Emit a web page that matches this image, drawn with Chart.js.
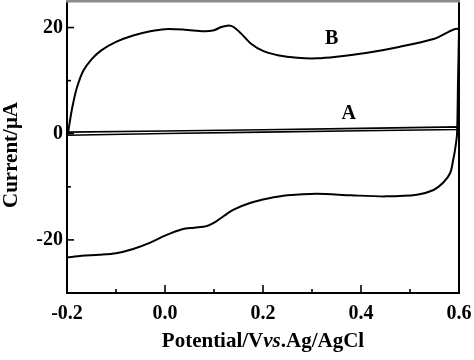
<!DOCTYPE html>
<html>
<head>
<meta charset="utf-8">
<script src="https://cdn.jsdelivr.net/npm/chart.js@4/dist/chart.umd.min.js"></script>
<style>
  html, body { margin: 0; padding: 0; background: #fff; }
  #wrap { width: 474px; height: 360px; }
</style>
</head>
<body>
<div id="wrap"><canvas id="cvChart" width="474" height="360"></canvas></div>
<script>
// curve B: forward scan then reverse scan (V, µA)
const potentialB = [
  -0.198, -0.193, -0.188, -0.18, -0.167, -0.15, -0.13, -0.1, -0.065, -0.03,
  0.0, 0.04, 0.08, 0.1, 0.115, 0.13, 0.14, 0.155, 0.175, 0.2,
  0.23, 0.27, 0.31, 0.35, 0.41, 0.48, 0.55, 0.6,
  0.598, 0.596, 0.592, 0.588, 0.582, 0.568, 0.548, 0.514, 0.45, 0.38,
  0.31, 0.25, 0.21, 0.175, 0.14, 0.12, 0.103, 0.085, 0.06, 0.035,
  0.0, -0.03, -0.065, -0.1, -0.135, -0.17, -0.2
];
const currentB = [
  0.0, 3.0, 5.5, 8.6, 11.8, 14.0, 15.7, 17.3, 18.5, 19.3,
  19.7, 19.6, 19.3, 19.5, 20.1, 20.4, 20.1, 18.9, 17.0, 15.6,
  14.8, 14.3, 14.2, 14.5, 15.2, 16.4, 17.9, 19.6,
  10.0, 0.0, -3.0, -5.0, -7.4, -9.2, -10.6, -11.5, -11.8, -11.6,
  -11.3, -11.6, -12.2, -13.0, -14.3, -15.5, -16.6, -17.4, -17.7, -18.0,
  -19.2, -20.5, -21.7, -22.5, -22.8, -23.0, -23.3
];

// curve A: bare electrode, narrow loop around zero
const potentialA = [-0.2, 0.0, 0.2, 0.4, 0.6, 0.6, 0.4, 0.2, 0.0, -0.2, -0.2];
const currentA = [0.3, 0.5, 0.75, 1.0, 1.3, 0.8, 0.55, 0.3, 0.05, -0.3, 0.3];

const xTicks = [-0.2, 0.0, 0.2, 0.4, 0.6];
const yTicks = [-20, 0, 20];
const curveLabels = [
  { text: "B", x: 0.34, y: 17.8 },
  { text: "A", x: 0.375, y: 3.8 }
];

const FONT = "'Liberation Serif', 'Times New Roman', serif";

function toPoints(xs, ys) {
  return xs.map((x, i) => ({ x: x, y: ys[i] }));
}

const framePlugin = {
  id: "frame",
  afterDraw(chart) {
    const { ctx, chartArea: a, scales } = chart;
    const x = scales.x, y = scales.y;
    ctx.save();
    ctx.strokeStyle = "#000";
    ctx.lineWidth = 2;
    ctx.beginPath();
    ctx.moveTo(a.left, a.top);
    ctx.lineTo(a.left, a.bottom);
    ctx.lineTo(a.right, a.bottom);
    ctx.lineTo(a.right, a.top);
    ctx.stroke();
    // top edge looks grey in the scan
    ctx.strokeStyle = "#8a8a8a";
    ctx.lineWidth = 3;
    ctx.beginPath();
    ctx.moveTo(a.left - 1, a.top);
    ctx.lineTo(a.right + 1, a.top);
    ctx.stroke();
    ctx.strokeStyle = "#000";

    // inward ticks
    ctx.lineWidth = 1.6;
    for (let v = -0.2; v <= 0.6001; v += 0.1) {
      const px = x.getPixelForValue(v);
      const major = Math.abs(Math.round(v * 10) % 2) === 0;
      const len = major ? 8 : 4;
      ctx.beginPath();
      ctx.moveTo(px, a.bottom);
      ctx.lineTo(px, a.bottom - len);
      ctx.stroke();
    }
    for (let v = -20; v <= 20; v += 10) {
      const py = y.getPixelForValue(v);
      const major = v % 20 === 0;
      const len = major ? 7 : 4;
      ctx.beginPath();
      ctx.moveTo(a.left, py);
      ctx.lineTo(a.left + len, py);
      ctx.stroke();
    }

    // curve labels
    ctx.fillStyle = "#000";
    ctx.font = "bold 20px " + FONT;
    ctx.textAlign = "center";
    ctx.textBaseline = "middle";
    curveLabels.forEach(l => {
      ctx.fillText(l.text, x.getPixelForValue(l.x), y.getPixelForValue(l.y));
    });

    // x axis title with italic "vs"
    const parts = [
      { t: "Potential/V", f: "bold 21px " + FONT },
      { t: "vs", f: "italic bold 21px " + FONT },
      { t: ".Ag/AgCl", f: "bold 21px " + FONT }
    ];
    let total = 0;
    parts.forEach(p => { ctx.font = p.f; p.w = ctx.measureText(p.t).width; total += p.w; });
    let cx = (a.left + a.right) / 2 - total / 2;
    ctx.textAlign = "left";
    ctx.textBaseline = "alphabetic";
    parts.forEach(p => { ctx.font = p.f; ctx.fillText(p.t, cx, 347); cx += p.w; });

    // y axis title
    ctx.translate(17, (a.top + a.bottom) / 2 + 8);
    ctx.rotate(-Math.PI / 2);
    ctx.font = "bold 21px " + FONT;
    ctx.textAlign = "center";
    ctx.fillText("Current/μA", 0, 0);
    ctx.restore();
  }
};

new Chart(document.getElementById("cvChart").getContext("2d"), {
  type: "scatter",
  data: {
    datasets: [
      {
        label: "B",
        data: toPoints(potentialB, currentB),
        showLine: true,
        borderColor: "#000",
        borderWidth: 2,
        pointRadius: 0,
        tension: 0.3
      },
      {
        label: "A",
        data: toPoints(potentialA, currentA),
        showLine: true,
        borderColor: "#000",
        borderWidth: 1.6,
        pointRadius: 0,
        tension: 0
      }
    ]
  },
  plugins: [framePlugin],
  options: {
    responsive: false,
    animation: false,
    layout: { padding: { top: 1, right: 15, left: 0, bottom: 0 } },
    plugins: {
      legend: { display: false },
      tooltip: { enabled: false }
    },
    scales: {
      x: {
        type: "linear",
        min: -0.2,
        max: 0.6,
        afterBuildTicks: s => { s.ticks = xTicks.map(v => ({ value: v })); },
        afterFit: s => { s.height = 67; s.paddingLeft = 0; s.paddingRight = 0; },
        grid: { display: false, drawTicks: false },
        border: { display: false },
        ticks: {
          color: "#000",
          padding: 9,
          maxRotation: 0,
          font: { family: FONT, size: 20, weight: "bold" },
          callback: v => v.toFixed(1)
        }
      },
      y: {
        type: "linear",
        min: -30,
        max: 25,
        afterBuildTicks: s => { s.ticks = yTicks.map(v => ({ value: v })); },
        afterFit: s => { s.width = 67; s.paddingTop = 0; s.paddingBottom = 0; },
        grid: { display: false, drawTicks: false },
        border: { display: false },
        ticks: {
          color: "#000",
          padding: 4,
          font: { family: FONT, size: 20, weight: "bold" },
          callback: v => String(v)
        }
      }
    }
  }
});
</script>
</body>
</html>
